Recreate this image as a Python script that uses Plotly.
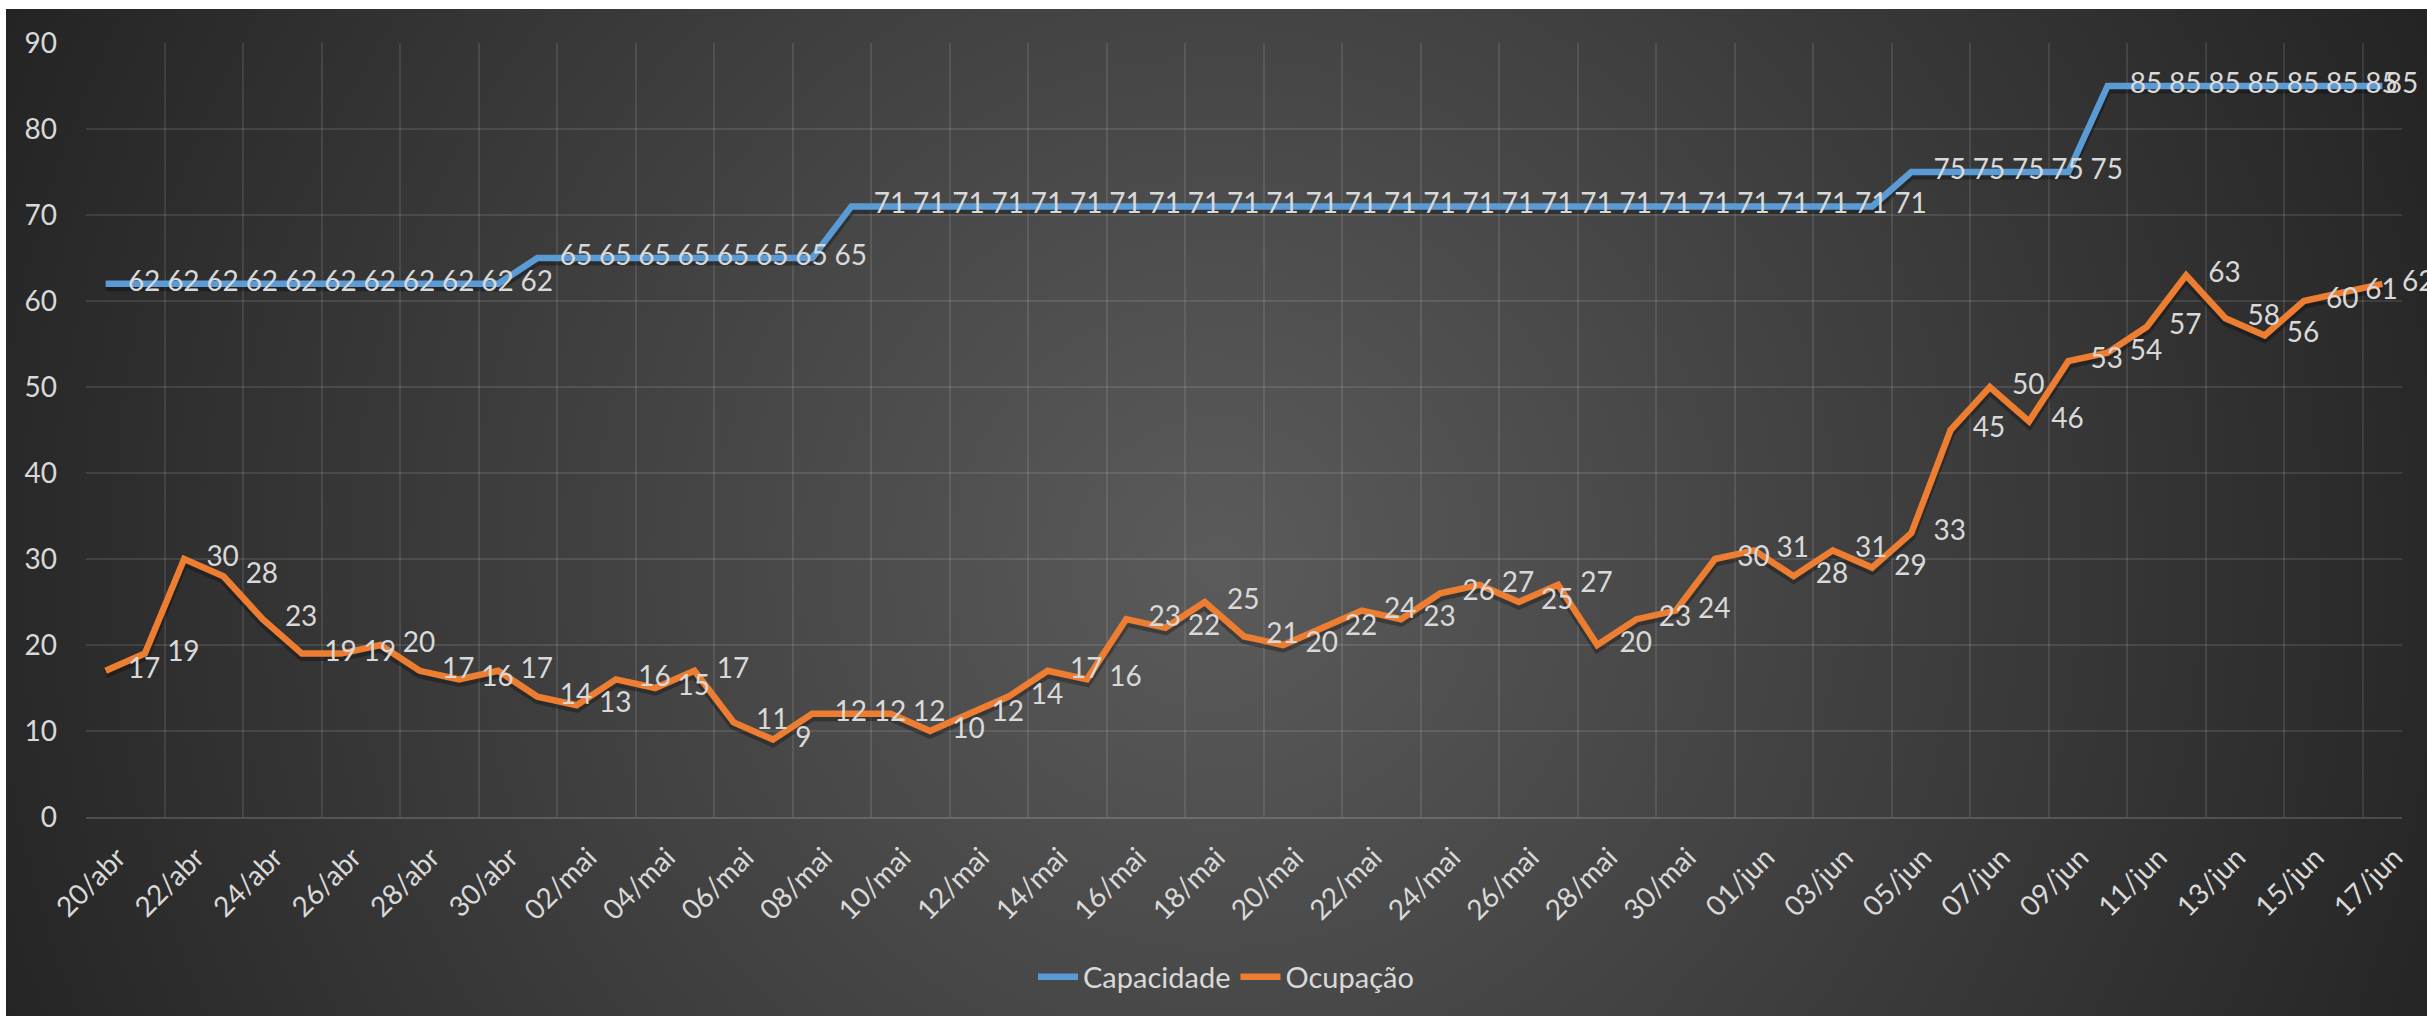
import base64
import plotly.graph_objects as go

# dados
dias = [
    "20/abr", "21/abr", "22/abr", "23/abr", "24/abr", "25/abr", "26/abr", "27/abr", "28/abr", "29/abr", "30/abr",
    "01/mai", "02/mai", "03/mai", "04/mai", "05/mai", "06/mai", "07/mai", "08/mai", "09/mai", "10/mai",
    "11/mai", "12/mai", "13/mai", "14/mai", "15/mai", "16/mai", "17/mai", "18/mai", "19/mai", "20/mai",
    "21/mai", "22/mai", "23/mai", "24/mai", "25/mai", "26/mai", "27/mai", "28/mai", "29/mai", "30/mai", "31/mai",
    "01/jun", "02/jun", "03/jun", "04/jun", "05/jun", "06/jun", "07/jun", "08/jun", "09/jun",
    "10/jun", "11/jun", "12/jun", "13/jun", "14/jun", "15/jun", "16/jun", "17/jun",
]

capacidade = [
    62, 62, 62, 62, 62, 62, 62, 62, 62, 62, 62,
    65, 65, 65, 65, 65, 65, 65, 65,
    71, 71, 71, 71, 71, 71, 71, 71, 71, 71, 71, 71, 71, 71,
    71, 71, 71, 71, 71, 71, 71, 71, 71, 71, 71, 71, 71,
    75, 75, 75, 75, 75,
    85, 85, 85, 85, 85, 85, 85, 85,
]

ocupacao = [
    17, 19, 30, 28, 23, 19, 19, 20, 17, 16, 17,
    14, 13, 16, 15, 17, 11, 9, 12, 12, 12,
    10, 12, 14, 17, 16, 23, 22, 25, 21, 20,
    22, 24, 23, 26, 27, 25, 27, 20, 23, 24, 30,
    31, 28, 31, 29, 33, 45, 50, 46, 53,
    54, 57, 63, 58, 56, 60, 61, 62,
]

W, H = 2427, 1016
ML, MR, MT, MB = 86, 25, 43, 199
PW, PH = W - ML - MR, H - MT - MB

FONTE = "Lato"
TAM = 28
COR_TEXTO = "#d9d9d9"
COR_GRADE = "rgba(255,255,255,0.10)"
YMAX = 90
SOMBRA_PX = 3  # deslocamento da sombra das linhas

x = list(range(len(dias)))

# fundo com gradiente radial (como no Excel)
bx, by = 6, 9
bw, bh = W - bx, H - by
svg = f"""<svg xmlns="http://www.w3.org/2000/svg" width="{bw}" height="{bh}" viewBox="0 0 {bw} {bh}" preserveAspectRatio="none">
<defs><radialGradient id="g" gradientUnits="userSpaceOnUse" cx="{bw * 0.5}" cy="{bh * 0.55}" r="1320">
<stop offset="0" stop-color="#5b5b5b"/><stop offset="1" stop-color="#242424"/></radialGradient></defs>
<rect width="{bw}" height="{bh}" fill="url(#g)"/></svg>"""
fundo = "data:image/svg+xml;base64," + base64.b64encode(svg.encode("utf-8")).decode("ascii")

series = [("Capacidade", capacidade, "#5B9BD5", 4), ("Ocupação", ocupacao, "#ED7D31", 30)]

fig = go.Figure()

# sombra suave sob as linhas (eixo y principal oculto, levemente deslocado)
for nome, valores, cor, ultimo in series:
    fig.add_trace(go.Scatter(
        x=x, y=valores, yaxis="y", mode="lines", showlegend=False, hoverinfo="skip",
        line=dict(color="rgba(0,0,0,0.30)", width=9),
    ))

# o tamanho do marcador (invisivel) define o afastamento do rotulo;
# no Excel o ultimo rotulo da Capacidade fica colado ao ponto
for nome, valores, cor, ultimo in series:
    tamanhos = [34] * (len(valores) - 1) + [ultimo]
    fig.add_trace(go.Scatter(
        x=x, y=valores, name=nome, yaxis="y2",
        mode="lines+markers+text",
        text=[str(v) for v in valores],
        textposition="middle right",
        textfont=dict(family=FONTE, size=TAM, color=COR_TEXTO),
        line=dict(color=cor, width=6.5),
        marker=dict(size=tamanhos, color="rgba(0,0,0,0)", opacity=0, line=dict(width=0)),
        cliponaxis=False,
        hoverinfo="x+y+name",
    ))

desloc = SOMBRA_PX * YMAX / PH

fig.update_layout(
    width=W, height=H,
    margin=dict(l=ML, r=MR, t=MT, b=MB),
    paper_bgcolor="white",
    plot_bgcolor="rgba(0,0,0,0)",
    font=dict(family=FONTE, size=TAM, color=COR_TEXTO),
    showlegend=True,
    legend=dict(
        orientation="h", x=(1226 - ML) / PW, xanchor="center",
        y=-(977 - (H - MB)) / PH, yanchor="middle",
        font=dict(family=FONTE, size=29, color=COR_TEXTO),
        bgcolor="rgba(0,0,0,0)", itemwidth=40,
    ),
    images=[dict(
        source=fundo, xref="paper", yref="paper",
        x=(bx - ML) / PW, y=(H - MB - by) / PH,
        sizex=bw / PW, sizey=bh / PH,
        xanchor="left", yanchor="top", sizing="stretch", layer="below",
    )],
    xaxis=dict(
        range=[-0.5, len(dias) - 0.5],
        tickmode="array", tickvals=x[::2], ticktext=dias[::2],
        tickangle=-45, ticks="", showgrid=False, zeroline=False,
        showline=True, linecolor="rgba(255,255,255,0.16)", linewidth=2,
        tickfont=dict(family=FONTE, size=TAM, color=COR_TEXTO),
        ticklabelstandoff=11, ticklabelshift=12,
        minor=dict(tickmode="array", tickvals=[v - 0.5 for v in x[::2]],
                   showgrid=True, gridcolor=COR_GRADE, gridwidth=2, ticks=""),
    ),
    yaxis=dict(range=[desloc, YMAX + desloc], visible=False, showgrid=False, zeroline=False),
    yaxis2=dict(
        overlaying="y", side="left",
        range=[0, YMAX], tick0=0, dtick=10, ticks="",
        showgrid=True, gridcolor=COR_GRADE, gridwidth=2, zeroline=False,
        tickfont=dict(family=FONTE, size=TAM, color=COR_TEXTO),
        ticklabelstandoff=28,
    ),
)

fig.write_html(
    "out.html",
    config={"displayModeBar": False},
    post_script="document.body.style.margin='0';document.body.style.overflow='hidden';",
)
